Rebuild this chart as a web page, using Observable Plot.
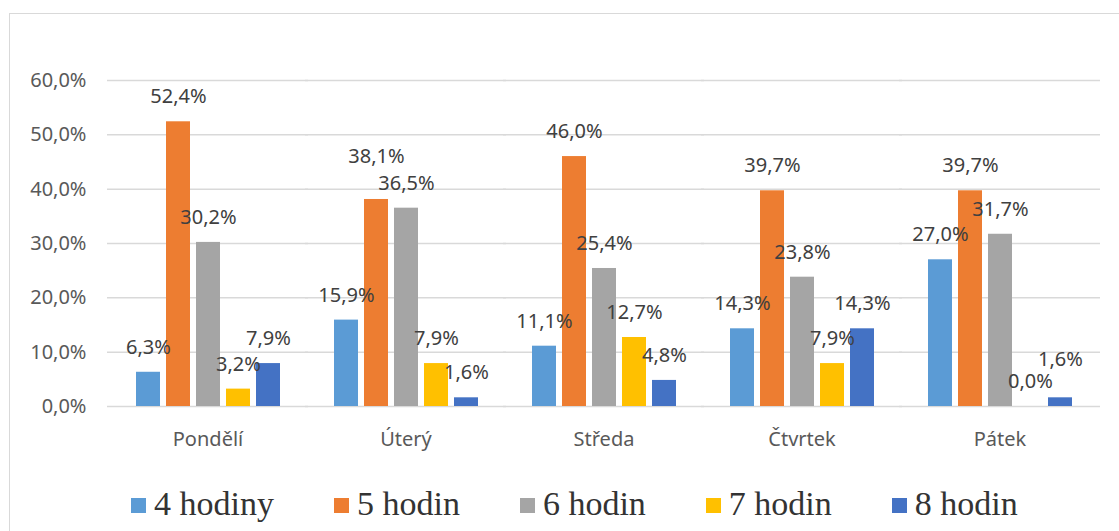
<!DOCTYPE html>
<html>
<head>
<meta charset="utf-8">
<script src="https://cdn.jsdelivr.net/npm/d3@7"></script>
<script src="https://cdn.jsdelivr.net/npm/@observablehq/plot@0.6"></script>
<style>
  html, body { margin: 0; padding: 0; background: #fff; width: 1119px; height: 531px; overflow: hidden; position: relative; }
  #frame { position: absolute; left: 9px; top: 13px; width: 1200px; height: 600px; border: 1.5px solid #d9d9d9; box-sizing: border-box; }
  #chart { position: absolute; left: 0; top: 0; }
  #legend { position: absolute; left: 131px; top: 484px; display: flex; align-items: center; gap: 60px;
            font-family: "Liberation Serif", "Times New Roman", serif; font-size: 34px; color: #333; line-height: 40px; }
  .item { display: flex; align-items: center; }
  .sw { width: 15px; height: 15px; margin-right: 8px; margin-top: 2px; }
</style>
</head>
<body>
<div id="frame"></div>
<div id="chart"></div>
<div id="legend"></div>
<script>
const days = ["Pondělí", "Úterý", "Středa", "Čtvrtek", "Pátek"];
const series = ["4 hodiny", "5 hodin", "6 hodin", "7 hodin", "8 hodin"];
const colors = ["#5B9BD5", "#ED7D31", "#A5A5A5", "#FFC000", "#4472C4"];
const hodiny4 = [6.3, 15.9, 11.1, 14.3, 27.0];
const hodin5 = [52.4, 38.1, 46.0, 39.7, 39.7];
const hodin6 = [30.2, 36.5, 25.4, 23.8, 31.7];
const hodin7 = [3.2, 7.9, 12.7, 7.9, 0.0];
const hodin8 = [7.9, 1.6, 4.8, 14.3, 1.6];
const yTicks = [0, 10, 20, 30, 40, 50, 60];

// labels that the original chart lifts higher to avoid collisions
const liftedLabels = [
  {day: "Úterý", series: "5 hodin", lift: 18},
  {day: "Pátek", series: "8 hodin", lift: 13}
];

const valuesBySeries = [hodiny4, hodin5, hodin6, hodin7, hodin8];
const data = [];
days.forEach((day, i) => {
  series.forEach((s, j) => data.push({day, series: s, value: valuesBySeries[j][i]}));
});
const fmt = v => v.toFixed(1).replace(".", ",") + "%";
const isLifted = d => liftedLabels.some(l => l.day === d.day && l.series === d.series);

const labelOpts = {fx: "day", x: "series", y: "value", text: d => fmt(d.value), fill: "#404040", fontSize: 20};

const chart = Plot.plot({
  width: 1119,
  height: 470,
  marginLeft: 107,
  marginRight: 19,
  marginTop: 80,
  marginBottom: 64,
  style: {fontFamily: "Noto Sans", fontSize: "20px", background: "transparent", overflow: "visible"},
  fx: {domain: days, paddingInner: 0.235, paddingOuter: 0.1175, label: null, axis: null},
  x: {domain: series, paddingInner: 0.21, paddingOuter: 0.105, axis: null},
  y: {domain: [0, 60], label: null},
  color: {domain: series, range: colors},
  marks: [
    Plot.ruleY(yTicks, {stroke: "#d9d9d9", strokeWidth: 1.5, insetLeft: -25, insetRight: -25}),
    Plot.barY(data, {fx: "day", x: "series", y: "value", fill: "series"}),
    Plot.text(data.filter(d => !isLifted(d)), {...labelOpts, dy: -25}),
    ...liftedLabels.map(l => Plot.text(data.filter(d => d.day === l.day && d.series === l.series), {...labelOpts, dy: -25 - l.lift})),
    Plot.axisY({ticks: yTicks, tickFormat: fmt, tickSize: 0, tickPadding: 46, fill: "#595959", fontSize: 20, label: null}),
    Plot.axisFx({anchor: "bottom", tickSize: 0, tickPadding: 25, fill: "#595959", fontSize: 20, label: null})
  ]
});
document.getElementById("chart").appendChild(chart);

const legend = document.getElementById("legend");
series.forEach((s, j) => {
  const item = document.createElement("div");
  item.className = "item";
  const sw = document.createElement("div");
  sw.className = "sw";
  sw.style.background = colors[j];
  const t = document.createElement("span");
  t.textContent = s;
  item.appendChild(sw);
  item.appendChild(t);
  legend.appendChild(item);
});
</script>
</body>
</html>
